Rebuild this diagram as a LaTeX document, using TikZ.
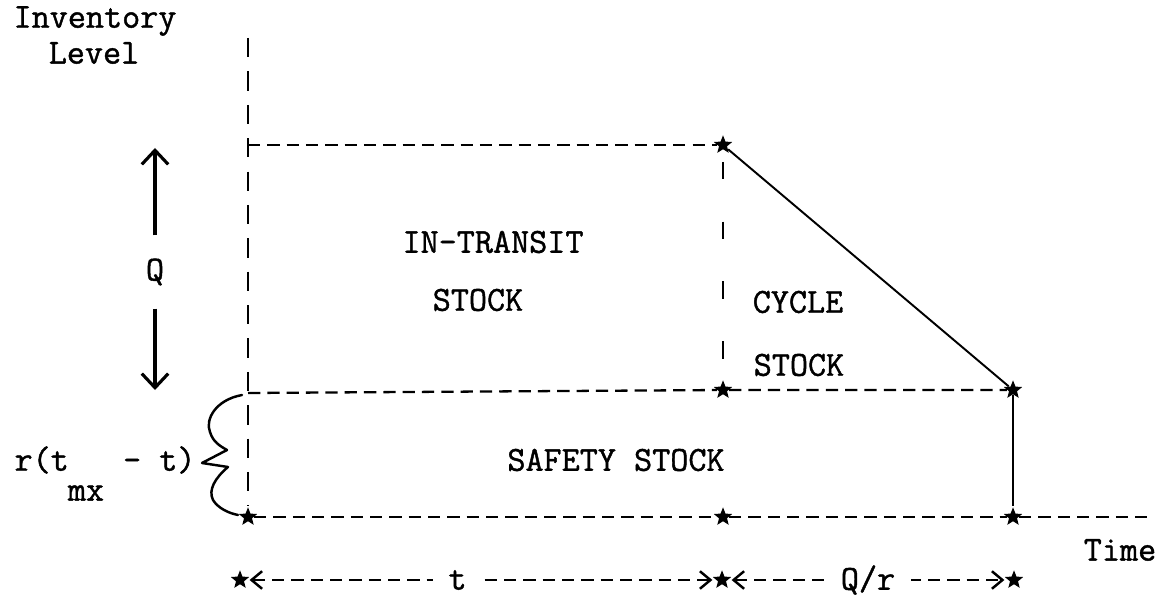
\documentclass[tikz,border=0pt]{standalone}
\usepackage{fontspec}
\newfontfamily\cour{Latin Modern Mono}[FakeBold=1.2]
\usetikzlibrary{arrows.meta,shapes.geometric}
\tikzset{
  lbl/.style  = {font=\cour\fontsize{20}{22}\selectfont, inner sep=1pt},
  astk/.style = {star, star points=5, star point ratio=2.3, fill, inner sep=0pt,
                 minimum size=11pt},
  ax/.style   = {dash pattern=on 11pt off 8pt, line width=0.9pt},
  lvl/.style  = {dash pattern=on 7pt off 4pt, line width=1.3pt},
  gap/.style  = {dash pattern=on 10pt off 24pt, dash phase=27pt, line width=1pt},
  sol/.style  = {line width=1.1pt},
  qa/.style   = {-{Straight Barb[length=8pt,width=15pt]}, line width=1.8pt},
  dim/.style  = {{Straight Barb[length=6pt,width=10pt]}-{Straight Barb[length=6pt,width=10pt]},
                 dash pattern=on 7pt off 4pt, line width=1.4pt, shorten <=2pt, shorten >=2pt},
  brc/.style  = {line width=1.4pt, line join=round, line cap=round}
}
\begin{document}
\begin{tikzpicture}[x=0.02cm,y=-0.02cm]
  \useasboundingbox (0,0) rectangle (1165,597);
  % ---- axis and levels ----
  \coordinate (ytop) at (248,38);
  \coordinate (qtop) at (248,145);
  \coordinate (stop) at (248,393);
  \coordinate (xend) at (1150,517);
  \node[astk] (o) at (248,517) {};
  \node[astk] (a) at (723,145) {};
  \node[astk] (b) at (723,390) {};
  \node[astk] (c) at (723,517) {};
  \node[astk] (d) at (1013,390) {};
  \node[astk] (e) at (1013,517) {};
  \draw[ax] (ytop) -- (o);
  \draw[lvl] (qtop) -- (a);
  \draw[lvl] (stop) -- (b) -- (d);
  \draw[lvl] (o) -- (c) -- (e) -- (xend);
  \draw[gap] (a) -- (b);
  \draw[sol] (a) -- (d);
  \draw[sol, line width=1.5pt] (d) -- (e);
  % ---- labels ----
  \node[lbl, inner sep=0pt] (inv1) at (95,21) {Inventory};
  \node[lbl, inner sep=0pt] (inv2) at (94,53) {Level};
  \node[lbl] (tim) at (1120,550) {Time};
  \node[lbl] (ins1) at (493,242) {IN-TRANSIT};
  \node[lbl] (ins2) at (478,300) {STOCK};
  \node[lbl] (cyc1) at (798,302) {CYCLE};
  \node[lbl] (cyc2) at (799,365) {STOCK};
  \node[lbl] (saf) at (616,460) {SAFETY STOCK};
  % ---- Q between the levels ----
  \node[lbl] (q) at (155,272) {Q};
  \coordinate (qup) at (155,148);
  \coordinate (qdn) at (155,390);
  \draw[qa, shorten <=12pt] (q) -- (qup);
  \draw[qa, shorten <=12pt] (q) -- (qdn);
  % ---- safety stock brace ----
  \draw[brc] (242,395) .. controls (215,400) and (205,420) .. (210,432)
    .. controls (213,442) and (220,446) .. (227,450) -- (202,463) -- (228,467)
    .. controls (215,478) and (208,490) .. (213,500)
    .. controls (218,508) and (228,513) .. (238,515);
  \node[lbl] (rt) at (105,460) {r(t\hphantom{xxx}- t)};
  \node[lbl] (mx) at (86,493) {mx};
  % ---- time spans ----
  \node[astk] (d1) at (240,580) {};
  \node[astk] (d2) at (722,580) {};
  \node[astk] (d3) at (1014,580) {};
  \draw[dim] (d1) -- node[pos=.45, lbl, fill=white, inner xsep=9pt] (tl) {t} (d2);
  \draw[dim] (d2) -- node[lbl, fill=white, inner xsep=9pt] (qr) {Q/r} (d3);
\end{tikzpicture}
\end{document}
